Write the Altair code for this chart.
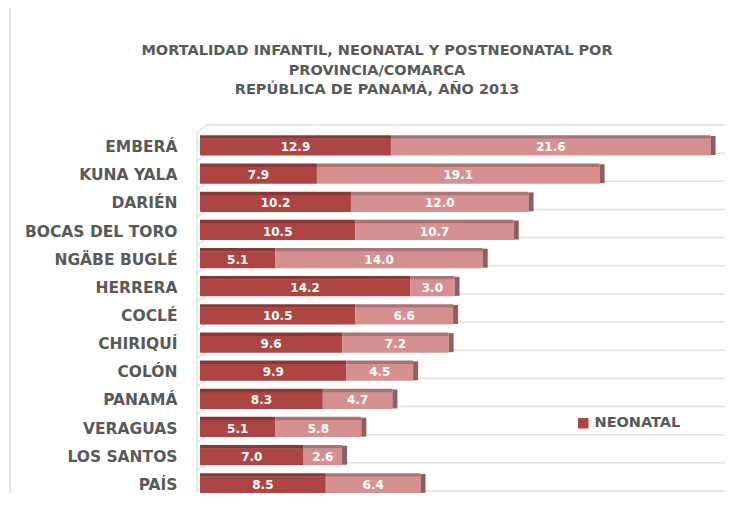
import altair as alt
import pandas as pd

cats = ["EMBERÁ", "KUNA YALA", "DARIÉN", "BOCAS DEL TORO", "NGÄBE BUGLÉ", "HERRERA",
        "COCLÉ", "CHIRIQUÍ", "COLÓN", "PANAMÁ", "VERAGUAS", "LOS SANTOS", "PAÍS"]
neonatal = [12.9, 7.9, 10.2, 10.5, 5.1, 14.2, 10.5, 9.6, 9.9, 8.3, 5.1, 7.0, 8.5]
postneonatal = [21.6, 19.1, 12.0, 10.7, 14.0, 3.0, 6.6, 7.2, 4.5, 4.7, 5.8, 2.6, 6.4]
series = ["NEONATAL", "POSTNEONATAL"]
title_lines = ["MORTALIDAD INFANTIL, NEONATAL Y POSTNEONATAL POR",
               "PROVINCIA/COMARCA",
               "REPÚBLICA DE PANAMÁ, AÑO 2013"]

rows = []
for c, n, p in zip(cats, neonatal, postneonatal):
    rows.append(dict(cat=c, series="NEONATAL", start=0.0, end=n, mid=n / 2, label=f"{n:.1f}"))
    rows.append(dict(cat=c, series="POSTNEONATAL", start=n, end=n + p, mid=n + p / 2, label=f"{p:.1f}"))
seg = pd.DataFrame(rows)
tot = pd.DataFrame({"cat": cats, "total": [n + p for n, p in zip(neonatal, postneonatal)]})
dummy = pd.DataFrame({"a": [0]})

FONT = "DejaVu Sans"
GRAY = "#595959"
GRID = "#e2e2e2"
W, H = 518, 366

yscale = alt.Scale(domain=cats, paddingInner=0, paddingOuter=0)
xscale = alt.Scale(domain=[0, 35], nice=False, zero=True)
yaxis = alt.Axis(title=None, domain=False, ticks=False, tickSize=0, grid=False,
                 labelPadding=23, labelFont=FONT, labelFontSize=15.5,
                 labelFontWeight="bold", labelColor=GRAY)


def Y(bp=None):
    kw = {}
    if bp is not None:
        kw["bandPosition"] = bp
    return alt.Y("cat:N", sort=cats, scale=yscale, axis=yaxis, **kw)


frame_top = alt.Chart(dummy).mark_rule(color="#d9d9d9", strokeWidth=1.5).encode(
    x=alt.value(-190), x2=alt.value(525), y=alt.value(-126))
frame_left = alt.Chart(dummy).mark_rule(color="#d9d9d9", strokeWidth=1.5).encode(
    x=alt.value(-190), y=alt.value(-126), y2=alt.value(H + 3))

grid = alt.Chart(tot).mark_rule(color=GRID, strokeWidth=1.5, yOffset=-8).encode(
    y=Y(1), x=alt.value(7), x2=alt.value(525))
grid_top = alt.Chart(tot.iloc[:1]).mark_rule(color=GRID, strokeWidth=1.5, yOffset=-8).encode(
    y=Y(0), x=alt.value(7), x2=alt.value(525))
diag = alt.Chart(tot).mark_rule(color=GRID, strokeWidth=1.5, y2Offset=-8).encode(
    y=Y(1), y2=alt.Y2("cat:N", bandPosition=1), x=alt.value(-3), x2=alt.value(7))
diag_top = alt.Chart(tot.iloc[:1]).mark_rule(color=GRID, strokeWidth=1.5, y2Offset=-8).encode(
    y=Y(0), y2=alt.Y2("cat:N", bandPosition=0), x=alt.value(-3), x2=alt.value(7))
wall = alt.Chart(dummy).mark_rule(color=GRID, strokeWidth=1.5).encode(
    x=alt.value(-3), y=alt.value(0), y2=alt.value(H))

bars = alt.Chart(seg).mark_bar(size=17).encode(
    y=Y(),
    x=alt.X("start:Q", scale=xscale, axis=None),
    x2="end:Q",
    color=alt.Color("series:N", scale=alt.Scale(domain=series, range=["#ad4543", "#d49190"]),
                    legend=alt.Legend(values=["NEONATAL"], orient="none", legendX=376, legendY=283,
                                      title=None, symbolType="square", symbolSize=110,
                                      symbolStrokeWidth=0, labelFont=FONT, labelFontSize=14.5,
                                      labelFontWeight="bold", labelColor=GRAY)),
)
strips = alt.Chart(seg).mark_bar(size=3.5, yOffset=-10).encode(
    y=Y(),
    x=alt.X("start:Q", scale=xscale, axis=None),
    x2="end:Q",
    color=alt.Color("series:N", scale=alt.Scale(domain=series, range=["#8a3837", "#aa7474"]),
                    legend=None),
)
side = alt.Chart(tot).mark_tick(thickness=5, size=19, xOffset=2.5, yOffset=-1.5,
                                color="#8f5f5f", opacity=1).encode(
    y=Y(), x=alt.X("total:Q", scale=xscale, axis=None))
labels = alt.Chart(seg).mark_text(color="white", fontWeight="bold", fontSize=12, font=FONT,
                                  baseline="middle", dy=0).encode(
    y=Y(), x=alt.X("mid:Q", scale=xscale, axis=None), text="label:N")

title = alt.Chart(dummy).mark_text(text=title_lines, font=FONT, fontSize=14.5, fontWeight="bold",
                                   color=GRAY, baseline="middle", align="center",
                                   lineHeight=19.5).encode(
    x=alt.value(177), y=alt.value(-82))

chart = alt.layer(frame_top, frame_left, grid, grid_top, diag, diag_top, wall,
                  bars, strips, side, labels, title).resolve_scale(color="independent").properties(
    width=W, height=H,
    autosize=alt.AutoSizeParams(type="none"),
    padding={"left": 192, "top": 125, "right": 8, "bottom": -6},
    background="white",
).configure_view(stroke=None)

chart.save("out.html", embed_options={"renderer": "svg", "actions": False})
